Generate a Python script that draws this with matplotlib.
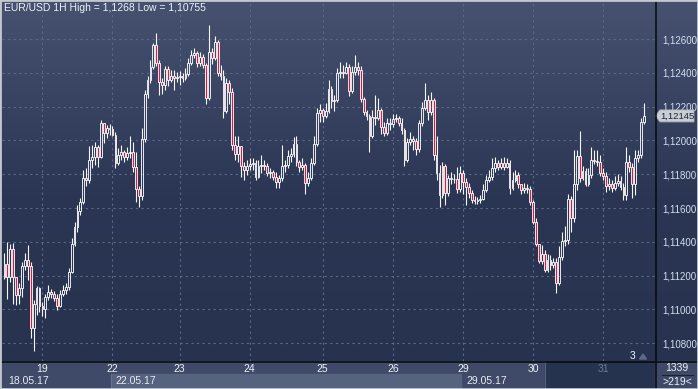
import numpy as np
import matplotlib
matplotlib.use("Agg")
import matplotlib.pyplot as plt
from matplotlib.patches import Rectangle, Polygon
from matplotlib.lines import Line2D
from matplotlib.colors import LinearSegmentedColormap
from matplotlib.transforms import blended_transform_factory

plt.rcParams['font.family'] = ['Liberation Sans', 'DejaVu Sans']

# EUR/USD hourly candles, 18.05.17 - 31.05.17
first_open = 1.11192
close = [
    1.11269, 1.11192, 1.11357, 1.11192, 1.11085, 1.11127, 1.11257, 1.11292, 1.11257, 1.10890,
    1.11032, 1.11127, 1.11020, 1.11002, 1.11074, 1.11103, 1.11091, 1.11068, 1.11020, 1.11091,
    1.11115, 1.11133, 1.11221, 1.11387, 1.11488, 1.11582, 1.11636, 1.11778, 1.11766, 1.11884,
    1.11902, 1.11961, 1.11902, 1.12103, 1.12044, 1.12074, 1.12070, 1.12032, 1.11866, 1.11914,
    1.11932, 1.11902, 1.11926, 1.11932, 1.11843, 1.11712, 1.11671, 1.12008, 1.12275, 1.12357,
    1.12434, 1.12565, 1.12458, 1.12346, 1.12328, 1.12425, 1.12357, 1.12381, 1.12369, 1.12375,
    1.12381, 1.12369, 1.12393, 1.12458, 1.12505, 1.12517, 1.12458, 1.12494, 1.12446, 1.12251,
    1.12523, 1.12488, 1.12582, 1.12399, 1.12381, 1.12174, 1.12340, 1.12287, 1.11973, 1.11920,
    1.11967, 1.11849, 1.11825, 1.11849, 1.11860, 1.11866, 1.11784, 1.11849, 1.11855, 1.11849,
    1.11807, 1.11813, 1.11784, 1.11754, 1.11778, 1.11849, 1.11855, 1.11908, 1.11920, 1.11979,
    1.11872, 1.11843, 1.11855, 1.11748, 1.11778, 1.11866, 1.11979, 1.12162, 1.12180, 1.12144,
    1.12174, 1.12304, 1.12233, 1.12239, 1.12399, 1.12405, 1.12399, 1.12434, 1.12292, 1.12405,
    1.12434, 1.12417, 1.12245, 1.12168, 1.12144, 1.12026, 1.12139, 1.12135, 1.12180, 1.12079,
    1.12044, 1.12103, 1.12100, 1.12127, 1.12133, 1.12103, 1.12062, 1.11884, 1.11991, 1.12008,
    1.11997, 1.11949, 1.12103, 1.12192, 1.12239, 1.12168, 1.12239, 1.11914, 1.11807, 1.11677,
    1.11849, 1.11689, 1.11778, 1.11772, 1.11770, 1.11712, 1.11807, 1.11754, 1.11724, 1.11689,
    1.11647, 1.11642, 1.11647, 1.11653, 1.11707, 1.11766, 1.11784, 1.11837, 1.11866, 1.11843,
    1.11866, 1.11843, 1.11866, 1.11718, 1.11766, 1.11795, 1.11742, 1.11707, 1.11718, 1.11712,
    1.11636, 1.11517, 1.11387, 1.11287, 1.11328, 1.11233, 1.11292, 1.11263, 1.11281, 1.11156,
    1.11310, 1.11405, 1.11411, 1.11653, 1.11541, 1.11742, 1.11908, 1.11778, 1.11819, 1.11742,
    1.11795, 1.11884, 1.11880, 1.11872, 1.11807, 1.11789, 1.11730, 1.11742, 1.11718, 1.11748,
    1.11760, 1.11724, 1.11677, 1.11872, 1.11843, 1.11742, 1.11896, 1.11914, 1.12109, 1.12145,
]
high = [
    1.11334, 1.11399, 1.11387, 1.11393, 1.11192, 1.11156, 1.11281, 1.11334, 1.11381, 1.11281,
    1.11056, 1.11139, 1.11133, 1.11044, 1.11091, 1.11144, 1.11121, 1.11109, 1.11091, 1.11115,
    1.11144, 1.11156, 1.11245, 1.11423, 1.11517, 1.11618, 1.11659, 1.11825, 1.11837, 1.11967,
    1.11973, 1.11991, 1.11973, 1.12121, 1.12103, 1.12091, 1.12097, 1.12085, 1.12050, 1.11955,
    1.11973, 1.11943, 1.11961, 1.12024, 1.11991, 1.11932, 1.11730, 1.12074, 1.12298, 1.12381,
    1.12476, 1.12576, 1.12635, 1.12476, 1.12369, 1.12440, 1.12440, 1.12417, 1.12417, 1.12405,
    1.12411, 1.12399, 1.12428, 1.12488, 1.12535, 1.12547, 1.12529, 1.12523, 1.12511, 1.12458,
    1.12683, 1.12547, 1.12618, 1.12594, 1.12446, 1.12417, 1.12369, 1.12357, 1.12310, 1.12026,
    1.12024, 1.11967, 1.11872, 1.11884, 1.11896, 1.11896, 1.11884, 1.11884, 1.11914, 1.11884,
    1.11866, 1.11837, 1.11825, 1.11813, 1.11795, 1.11973, 1.11884, 1.11943, 1.11955, 1.12020,
    1.12024, 1.11884, 1.11896, 1.11866, 1.11813, 1.11896, 1.12024, 1.12192, 1.12215, 1.12192,
    1.12221, 1.12357, 1.12322, 1.12269, 1.12428, 1.12464, 1.12446, 1.12464, 1.12452, 1.12440,
    1.12505, 1.12464, 1.12440, 1.12257, 1.12180, 1.12156, 1.12180, 1.12269, 1.12251, 1.12192,
    1.12109, 1.12133, 1.12133, 1.12156, 1.12156, 1.12144, 1.12133, 1.12074, 1.12014, 1.12050,
    1.12026, 1.12014, 1.12121, 1.12227, 1.12340, 1.12269, 1.12287, 1.12251, 1.12024, 1.11855,
    1.11872, 1.11860, 1.11795, 1.11813, 1.11801, 1.11843, 1.11849, 1.11825, 1.11778, 1.11748,
    1.11707, 1.11671, 1.11665, 1.11677, 1.11742, 1.11795, 1.11825, 1.11896, 1.11902, 1.11884,
    1.11896, 1.11902, 1.11896, 1.11884, 1.11813, 1.11825, 1.11813, 1.11742, 1.11748, 1.11742,
    1.11730, 1.11647, 1.11541, 1.11387, 1.11381, 1.11352, 1.11328, 1.11322, 1.11304, 1.11304,
    1.11375, 1.11458, 1.11494, 1.11683, 1.11671, 1.11943, 1.11943, 1.12057, 1.11849, 1.11837,
    1.11837, 1.11961, 1.11943, 1.11943, 1.11914, 1.11837, 1.11813, 1.11778, 1.11766, 1.11789,
    1.11801, 1.11789, 1.11748, 1.11961, 1.11914, 1.11866, 1.11943, 1.11943, 1.12133, 1.12221,
]
low = [
    1.11180, 1.11062, 1.11162, 1.11031, 1.11026, 1.11032, 1.11074, 1.11233, 1.11174, 1.10831,
    1.10755, 1.10967, 1.10985, 1.10961, 1.10949, 1.11056, 1.11068, 1.11050, 1.10997, 1.11014,
    1.11079, 1.11091, 1.11115, 1.11215, 1.11375, 1.11458, 1.11559, 1.11624, 1.11730, 1.11748,
    1.11837, 1.11855, 1.11843, 1.11896, 1.11985, 1.12014, 1.12032, 1.12024, 1.11837, 1.11855,
    1.11884, 1.11872, 1.11884, 1.11896, 1.11813, 1.11636, 1.11606, 1.11647, 1.11990, 1.12251,
    1.12337, 1.12425, 1.12440, 1.12269, 1.12275, 1.12298, 1.12322, 1.12346, 1.12298, 1.12346,
    1.12328, 1.12346, 1.12357, 1.12381, 1.12446, 1.12488, 1.12434, 1.12440, 1.12428, 1.12213,
    1.12239, 1.12452, 1.12476, 1.12381, 1.12357, 1.12133, 1.12162, 1.12215, 1.11943, 1.11884,
    1.11872, 1.11784, 1.11766, 1.11795, 1.11825, 1.11825, 1.11766, 1.11778, 1.11807, 1.11825,
    1.11789, 1.11778, 1.11766, 1.11718, 1.11718, 1.11760, 1.11813, 1.11837, 1.11872, 1.11902,
    1.11849, 1.11813, 1.11825, 1.11683, 1.11730, 1.11766, 1.11855, 1.11967, 1.12109, 1.12109,
    1.12133, 1.12162, 1.12192, 1.12174, 1.12227, 1.12369, 1.12369, 1.12393, 1.12263, 1.12281,
    1.12387, 1.12387, 1.12227, 1.12150, 1.12121, 1.11932, 1.12014, 1.12091, 1.12121, 1.12038,
    1.12024, 1.12032, 1.12062, 1.12079, 1.12109, 1.12085, 1.12038, 1.11849, 1.11872, 1.11973,
    1.11943, 1.11914, 1.11932, 1.12085, 1.12180, 1.12121, 1.12150, 1.11884, 1.11766, 1.11606,
    1.11659, 1.11618, 1.11671, 1.11742, 1.11748, 1.11689, 1.11695, 1.11683, 1.11618, 1.11659,
    1.11630, 1.11624, 1.11624, 1.11630, 1.11647, 1.11695, 1.11754, 1.11766, 1.11813, 1.11825,
    1.11831, 1.11825, 1.11837, 1.11683, 1.11707, 1.11754, 1.11718, 1.11683, 1.11689, 1.11689,
    1.11618, 1.11505, 1.11375, 1.11275, 1.11269, 1.11221, 1.11221, 1.11233, 1.11245, 1.11097,
    1.11144, 1.11292, 1.11375, 1.11387, 1.11458, 1.11517, 1.11707, 1.11754, 1.11766, 1.11730,
    1.11730, 1.11778, 1.11860, 1.11849, 1.11789, 1.11766, 1.11695, 1.11707, 1.11695, 1.11707,
    1.11730, 1.11707, 1.11647, 1.11647, 1.11813, 1.11659, 1.11677, 1.11872, 1.11896, 1.12097,
]

day_start = [13, 37, 60, 84, 109, 133, 157, 181, 205]
day_label = ['19', '22', '23', '24', '25', '26', '29', '30', '31']
week_start = [0, 37, 157]
week_label = ['18.05.17', '22.05.17', '29.05.17']
price_ticks = [1.108, 1.110, 1.112, 1.114, 1.116, 1.118, 1.120, 1.122, 1.124, 1.126]
title = 'EUR/USD 1H High = 1,1268 Low = 1,10755'

o = np.array([first_open] + close[:-1])
c = np.array(close)
h = np.array(high)
l = np.array(low)
idx = np.arange(len(c))

W, H = 698, 389
fig = plt.figure(figsize=(W / 100, H / 100), dpi=100)

# background gradient for the whole picture
bg = fig.add_axes([0, 0, 1, 1], zorder=0)
cmap = LinearSegmentedColormap.from_list('bg', ['#46526f', '#2a3653', '#27324e'])
bg.imshow(np.linspace(0, 1, 256).reshape(-1, 1), aspect='auto', cmap=cmap,
          extent=[0, 1, 0, 1], origin='upper')
bg.set_axis_off()

# main chart area
ax = fig.add_axes([2 / W, 28 / H, 653 / W, 361 / H], zorder=2)
ax.set_facecolor('none')
ax.set_xlim(-0.84, 222.8)
ax.set_ylim(1.106947, 1.128308)

ax.set_xticks(day_start)
ax.set_yticks(price_ticks)
ax.grid(True, color='#5b6a8c', linestyle=(0, (2, 3)), linewidth=0.8)
ax.set_axisbelow(True)
ax.tick_params(axis='x', length=0, labelbottom=False)
ax.yaxis.tick_right()
ax.set_yticklabels([f'{p:.5f}'.replace('.', ',') for p in price_ticks])
ax.tick_params(axis='y', length=0, pad=5, labelsize=7, labelcolor='#d2def0')
for s in ax.spines.values():
    s.set_visible(False)

# candles
up = c >= o
fills = ['none' if u else '#e5173f' for u in up]
body_lo = np.minimum(o, c)
body_hi = np.maximum(o, c)
ax.vlines(idx, body_hi, h, color='#f6f6f6', linewidth=0.8, zorder=3)
ax.vlines(idx, l, body_lo, color='#f6f6f6', linewidth=0.8, zorder=3)
ax.bar(idx, np.maximum(body_hi - body_lo, 0.00002), bottom=body_lo, width=0.62,
       color=fills, edgecolor='#f6f6f6', linewidth=0.65, zorder=4)

# last price tag
tr = blended_transform_factory(fig.transFigure, ax.transData)
last = c[-1]
hh = 6 * 0.002 / 33.8
tag = Polygon([(655.5 / W, last), (660 / W, last + hh), (694 / W, last + hh),
               (694 / W, last - hh), (660 / W, last - hh)], closed=True,
              facecolor='#c9cdd4', edgecolor='#a9afb9', linewidth=0.6,
              transform=tr, clip_on=False, zorder=5)
fig.patches.append(tag)
fig.text(677 / W, last - 0.00003, f'{last:.5f}'.replace('.', ','), transform=tr,
         ha='center', va='center', fontsize=6.8, color='#1e2430', zorder=6)

# bottom time strip
bx = fig.add_axes([2 / W, 0, 653 / W, 28 / H], zorder=1)
bx.set_xlim(ax.get_xlim())
bx.set_ylim(28, 0)
bx.set_axis_off()
x0, x1 = ax.get_xlim()
bx.add_patch(Rectangle((x0, 0), x1 - x0, 28, color='#3e4a67', zorder=0))
bx.add_patch(Rectangle((week_start[1] - 0.5, 12.5), week_start[2] - week_start[1], 15.5,
                       color='#56637f', zorder=1))
bx.plot([week_start[1] - 0.5, week_start[1] - 0.5], [12.5, 28], color='#6c7893', lw=0.6, zorder=2)
sep = 185.1
bx.add_patch(Rectangle((sep, 0), x1 - sep, 28, color='#26334f', zorder=1))
bx.plot([sep, sep], [0, 28], color='#56627e', lw=0.8, zorder=2)
for d, lab in zip(day_start, day_label):
    col = '#6f7a94' if d > sep else '#eef2f8'
    bx.text(d, 7.5, lab, ha='center', va='center', fontsize=7.5, color=col, zorder=3)
for d, lab in zip(week_start, week_label):
    bx.annotate(lab, (d - 0.5, 19.5), xytext=(3.5, 0), textcoords='offset points',
                ha='left', va='center', fontsize=7.5, color='#e8ecf2', zorder=3)

# bottom-right cell
fig.patches.append(Rectangle((655 / W, 0), 43 / W, 28 / H, transform=fig.transFigure,
                             color='#3e4a67', zorder=1))
fig.text(677 / W, 1 - 368 / H, '1339', ha='center', va='center', fontsize=7.5, color='#eef2f8')
fig.text(677 / W, 1 - 382 / H, '>219<', ha='center', va='center', fontsize=7.5, color='#eef2f8')
fig.lines.append(Line2D([662 / W, 693 / W], [1 - 374.5 / H, 1 - 374.5 / H],
                        transform=fig.transFigure, color='#1a2233', lw=0.8))

# separator lines
fig.lines.append(Line2D([655.5 / W, 655.5 / W], [0, 1], transform=fig.transFigure,
                        color='#050810', lw=1.1, zorder=7))
fig.lines.append(Line2D([0, 1], [1 - 361.5 / H, 1 - 361.5 / H], transform=fig.transFigure,
                        color='#050810', lw=1.1, zorder=7))

# counter marker near the bottom right of the chart
fig.text(633 / W, 1 - 356 / H, '3', ha='center', va='center', fontsize=7.5, color='#eef2f8')
fig.patches.append(Polygon([(639.5 / W, 1 - 359 / H), (646.5 / W, 1 - 359 / H), (643 / W, 1 - 354 / H)],
                           closed=True, transform=fig.transFigure, color='#5e6a85', zorder=3))

# title
fig.text(4 / W, 1 - 8 / H, title, ha='left', va='center', fontsize=7.5, color='#eef2f8')

# light outer frame
fig.patches.append(Rectangle((0, 0), 1, 1, transform=fig.transFigure, fill=False,
                             edgecolor='#c3c7cf', linewidth=2.0, zorder=10))

fig.savefig('out.png', dpi=100)
